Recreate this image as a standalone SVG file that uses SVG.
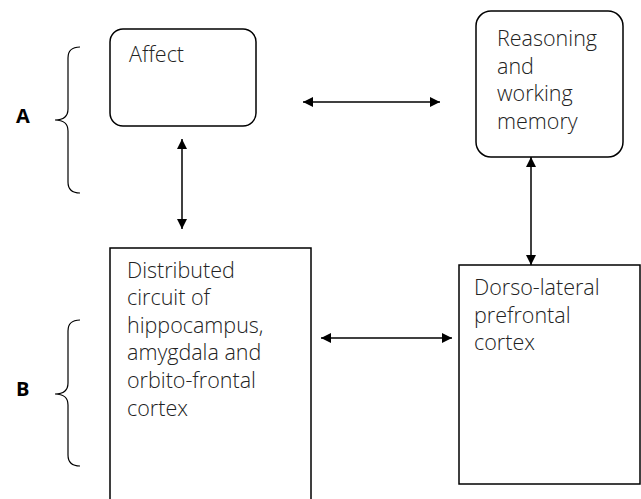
<svg xmlns="http://www.w3.org/2000/svg" width="641" height="499" viewBox="0 0 641 499">
<defs>
<marker id="ah" viewBox="0 0 10 10" refX="10" refY="5" markerWidth="10" markerHeight="10" markerUnits="userSpaceOnUse" orient="auto-start-reverse">
<path d="M0,0 L10,5 L0,10 Z" fill="#000"/>
</marker>
<style>
.box{fill:#fff;stroke:#000;stroke-width:1.5}
.t{font-family:"Open Sans","Liberation Sans",sans-serif;font-weight:300;font-size:21.5px;fill:#222}
.lbl{font-family:"Open Sans","Liberation Sans",sans-serif;font-weight:700;font-size:20px;fill:#000}
.br{fill:none;stroke:#000;stroke-width:1.2}
.c{stroke:#000;stroke-width:1.5;fill:none;marker-start:url(#ah);marker-end:url(#ah)}
</style>
</defs>
<rect width="641" height="499" fill="#fff"/>
<g id="brace-A">
<path class="br" d="M80,47 Q68,47 68,58 L68,109 Q68,120 55,120 Q68,120 68,131 L68,182 Q68,193 80,193"/>
<text class="lbl" x="16" y="123">A</text>
</g>
<g id="brace-B">
<path class="br" d="M80,320 Q68,320 68,331 L68,383 Q68,394 55,394 Q68,394 68,405 L68,455 Q68,466 80,466"/>
<text class="lbl" x="16" y="396">B</text>
</g>
<g id="affect">
<rect class="box" x="110" y="29" width="146" height="97" rx="13"/>
<text class="t" x="129" y="62">Affect</text>
</g>
<g id="reasoning">
<rect class="box" x="476" y="11" width="147" height="146" rx="15"/>
<text class="t" x="497"><tspan x="497" y="46">Reasoning</tspan><tspan x="497" y="73.5">and</tspan><tspan x="497" y="101">working</tspan><tspan x="497" y="128.5">memory</tspan></text>
</g>
<g id="distributed">
<rect class="box" x="110" y="248" width="201" height="262"/>
<text class="t"><tspan x="127" y="277.5">Distributed</tspan><tspan x="127" y="305">circuit of</tspan><tspan x="127" y="332.5">hippocampus,</tspan><tspan x="127" y="360">amygdala and</tspan><tspan x="127" y="388">orbito-frontal</tspan><tspan x="127" y="416">cortex</tspan></text>
</g>
<g id="dorso">
<rect class="box" x="459" y="265" width="181" height="219"/>
<text class="t"><tspan x="474" y="295">Dorso-lateral</tspan><tspan x="474" y="322.5">prefrontal</tspan><tspan x="474" y="350">cortex</tspan></text>
</g>
<g id="connectors">
<line class="c" x1="182" y1="139" x2="182" y2="229"/>
<line class="c" x1="303" y1="102" x2="440" y2="102"/>
<line class="c" x1="531" y1="157" x2="531" y2="265"/>
<line class="c" x1="321" y1="338" x2="452" y2="338"/>
</g>
</svg>
